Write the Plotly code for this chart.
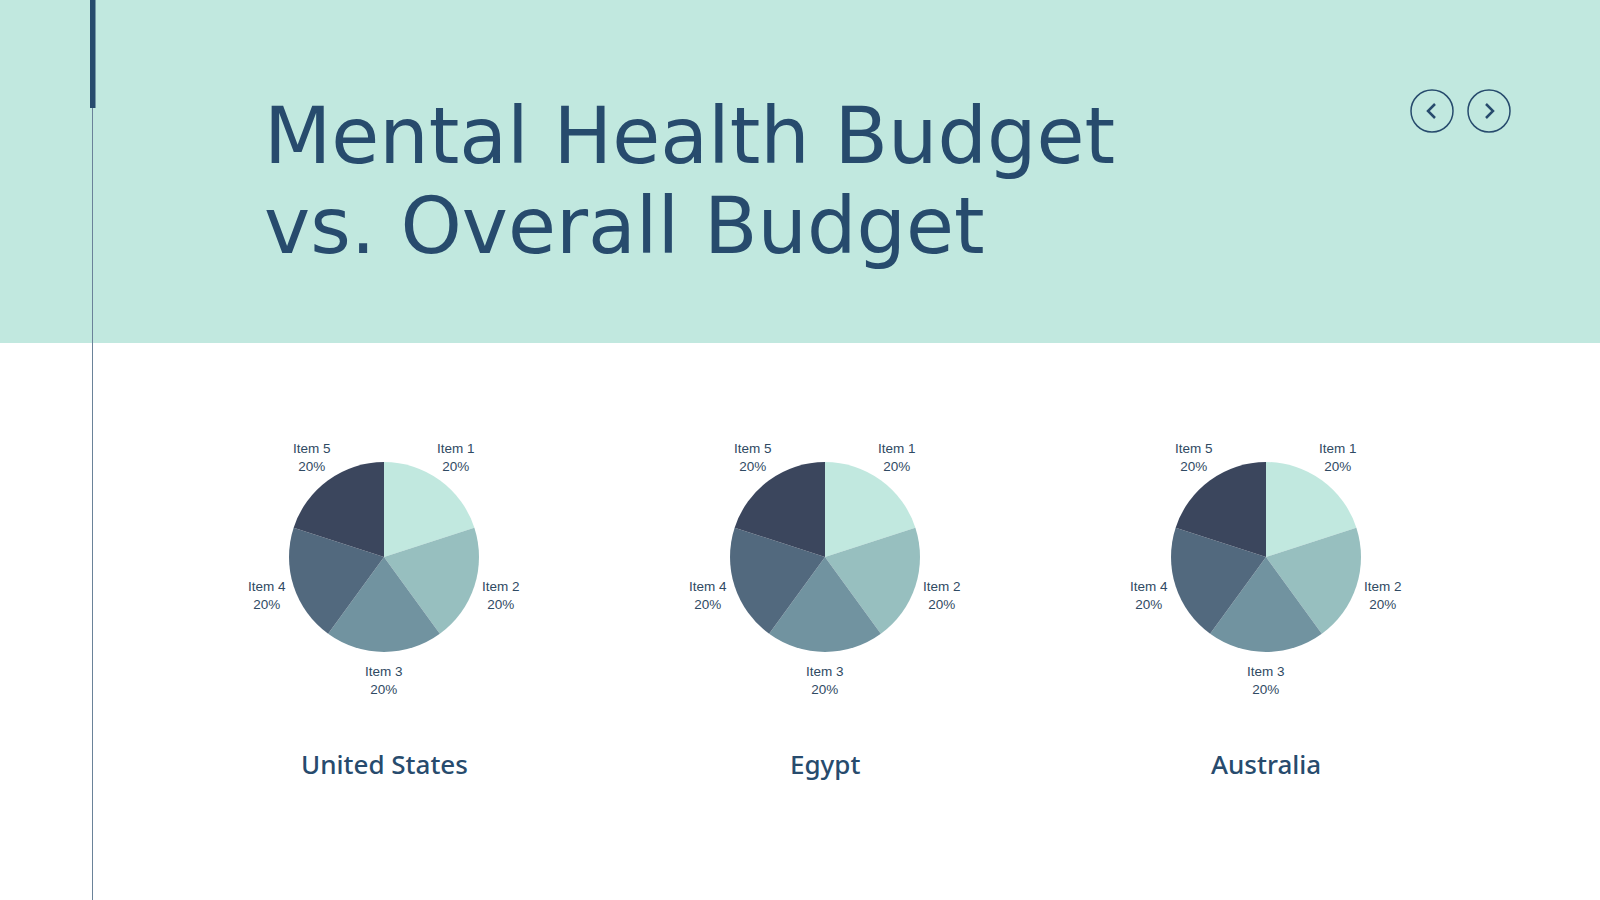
import math
import plotly.graph_objects as go

# data
countries = ["United States", "Egypt", "Australia"]
items = ["Item 1", "Item 2", "Item 3", "Item 4", "Item 5"]
us_values = [20, 20, 20, 20, 20]
egypt_values = [20, 20, 20, 20, 20]
australia_values = [20, 20, 20, 20, 20]
series = [us_values, egypt_values, australia_values]

slice_colors = ["#c1e8df", "#97bfbf", "#7193a0", "#52697e", "#3b465d"]
navy = "#274b6d"
mint = "#c1e8df"
label_color = "#2f4a63"

W, H = 1600, 900
pie_cx = [384, 825, 1266]
pie_cy = 557
pie_r = 95
label_r = 123


def px(x):
    return x / W


def py(y):
    return 1 - y / H


fig = go.Figure()
annotations = []

for name, vals, cx in zip(countries, series, pie_cx):
    fig.add_trace(go.Pie(
        labels=items,
        values=vals,
        name=name,
        sort=False,
        direction="clockwise",
        rotation=0,
        marker=dict(colors=slice_colors, line=dict(width=0)),
        textinfo="none",
        showlegend=False,
        hoverinfo="label+percent",
        domain=dict(x=[px(cx - pie_r), px(cx + pie_r)],
                    y=[py(pie_cy + pie_r), py(pie_cy - pie_r)]),
    ))
    # outside labels centred on each slice's mid angle
    total = sum(vals)
    start = 0
    for lab, v in zip(items, vals):
        mid = (start + v / 2) / total * 2 * math.pi
        start += v
        lx = cx + label_r * math.sin(mid)
        ly = pie_cy - label_r * math.cos(mid)
        annotations.append(dict(
            text=f"{lab}<br>{v / total * 100:.0f}%", x=px(lx), y=py(ly),
            xref="paper", yref="paper", xanchor="center", yanchor="middle",
            showarrow=False,
            font=dict(family="Liberation Sans, Arial", size=13.5, color=label_color)))

shapes = [
    # header band
    dict(type="rect", xref="paper", yref="paper", x0=0, x1=1, y0=py(343), y1=1,
         fillcolor=mint, line=dict(width=0), layer="below"),
    # thin vertical rule
    dict(type="line", xref="paper", yref="paper", x0=px(92.5), x1=px(92.5), y0=0, y1=1,
         line=dict(color="#6a8299", width=1)),
    # thick accent bar
    dict(type="rect", xref="paper", yref="paper", x0=px(90), x1=px(95.5), y0=py(108), y1=1,
         fillcolor=navy, line=dict(width=0)),
]

# nav buttons
for cx, d in [(1432, -1), (1489, 1)]:
    r = 21
    shapes.append(dict(type="circle", xref="paper", yref="paper",
                       x0=px(cx - r), x1=px(cx + r), y0=py(111 + r), y1=py(111 - r),
                       line=dict(color=navy, width=1.5)))
    tip = cx + 4 * d
    back = cx - 3 * d
    shapes.append(dict(type="path", xref="paper", yref="paper",
                       path=f"M {px(back)} {py(104)} L {px(tip)} {py(111)} L {px(back)} {py(118)}",
                       line=dict(color=navy, width=2.5)))

annotations += [
    dict(text="Mental Health Budget", x=px(262), y=py(136), xref="paper", yref="paper",
         xanchor="left", yanchor="middle", showarrow=False,
         font=dict(family="DejaVu Sans", size=78, color=navy)),
    dict(text="vs. Overall Budget", x=px(262), y=py(226), xref="paper", yref="paper",
         xanchor="left", yanchor="middle", showarrow=False,
         font=dict(family="DejaVu Sans", size=78, color=navy)),
]
for name, cx in zip(countries, pie_cx):
    annotations.append(dict(text=name, x=px(cx), y=py(764), xref="paper", yref="paper",
                            xanchor="center", yanchor="middle", showarrow=False,
                            font=dict(family="Noto Sans", size=26, color=navy, weight=500)))

fig.update_layout(
    width=W, height=H,
    margin=dict(l=0, r=0, t=0, b=0),
    paper_bgcolor="white",
    plot_bgcolor="white",
    shapes=shapes,
    annotations=annotations,
)

fig.write_html("out.html", config={"displayModeBar": False},
               post_script="document.body.style.margin='0';")
